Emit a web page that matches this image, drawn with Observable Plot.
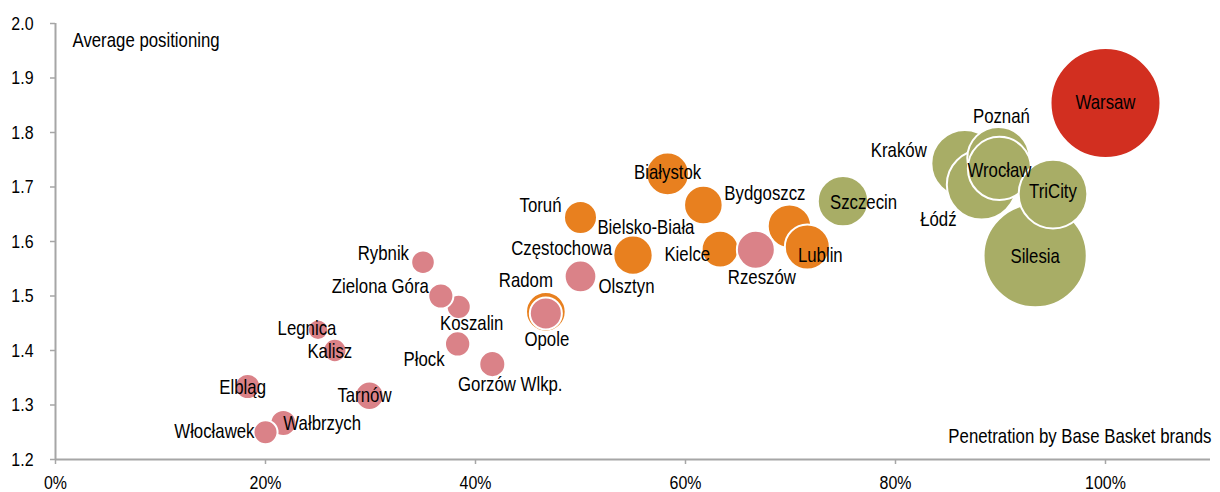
<!DOCTYPE html>
<html><head><meta charset="utf-8">
<script src="https://cdn.jsdelivr.net/npm/d3@7"></script>
<script src="https://cdn.jsdelivr.net/npm/@observablehq/plot@0.6"></script>
<style>body{margin:0;background:#fff}</style>
</head><body><div id="chart"></div>
<script>
// Data (in drawing order: later bubbles lie on top)
const cities = ["Warsaw","Silesia","Kraków","Łódź","Poznań","Wrocław","TriCity","Szczecin",
  "Białystok","Bydgoszcz","Toruń","Częstochowa","Bielsko-Biała","Lublin","Kielce","Rzeszów",
  "Radom","Opole","Olsztyn","Rybnik","Koszalin","Zielona Góra","Płock","Gorzów Wlkp.",
  "Legnica","Kalisz","Tarnów","Elbląg","Wałbrzych","Włocławek"];
const penetration = [100,93.3,86.6,88.2,89.8,89.9,95.0,75.0,
  58.3,61.7,50.0,55.0,69.9,71.6,63.3,66.7,
  46.7,46.7,50.0,35.0,38.4,36.7,38.3,41.6,
  25.0,26.6,29.9,18.3,21.7,20.0];
const positioning = [1.854,1.574,1.743,1.704,1.753,1.734,1.687,1.674,
  1.724,1.667,1.644,1.575,1.628,1.590,1.586,1.585,
  1.471,1.468,1.536,1.562,1.480,1.500,1.412,1.375,
  1.438,1.400,1.317,1.334,1.267,1.250];
const marketSize = [100,88,37,40,32,33,39,21,
  15,12.3,9.0,12.8,15.6,16.7,11.3,11.9,
  13.0,8.5,8.3,4.6,4.8,5.2,5.3,5.6,
  3.5,4.5,6.7,5.2,5.6,4.8];
const tiers = ["capital","large","large","large","large","large","large","large",
  "medium","medium","medium","medium","medium","medium","medium","small",
  "medium","small","small","small","small","small","small","small",
  "small","small","small","small","small","small"];
const xTicks = [0,20,40,60,80,100];
const yTicks = [1.2,1.3,1.4,1.5,1.6,1.7,1.8,1.9,2.0];

// Layout: label offsets from bubble centre [dx, dy, anchor]
const labelPlacement = {
  "Warsaw":[0,0,"middle"],"Silesia":[0,1,"middle"],"TriCity":[0,-2,"middle"],
  "Łódź":[-25,35,"end"],"Kraków":[-38,-13,"end"],"Poznań":[3,-42,"middle"],
  "Wrocław":[0,2,"middle"],"Szczecin":[-13,1,"start"],"Białystok":[0,-1,"middle"],
  "Bydgoszcz":[21,-11,"start"],"Bielsko-Biała":[-95,1,"end"],"Lublin":[13,9,"middle"],
  "Toruń":[-19,-12,"end"],"Częstochowa":[-21,-7,"end"],"Kielce":[-10,5,"end"],
  "Rzeszów":[6,28,"middle"],"Olsztyn":[18,10,"start"],"Radom":[-20,-31,"middle"],
  "Opole":[1,26,"middle"],"Rybnik":[-14,-9,"end"],"Zielona Góra":[-12,-9,"end"],
  "Koszalin":[13,17,"middle"],"Płock":[-13,16,"end"],"Gorzów Wlkp.":[18,20,"middle"],
  "Legnica":[-11,-1,"middle"],"Kalisz":[-5,1,"middle"],"Tarnów":[-5,0,"middle"],
  "Elbląg":[-5,1,"middle"],"Wałbrzych":[0,1,"start"],"Włocławek":[-11,-1,"end"]
};

const rows = cities.map((c,i)=>({city:c, x:penetration[i], y:positioning[i], size:marketSize[i], tier:tiers[i]}));
const FONT = "'Liberation Sans',Arial,sans-serif";
const GRAY = "#a6a6a6";

const labelMarks = rows.map(d => {
  const [dx,dy,anchor] = labelPlacement[d.city];
  return Plot.text([d], {x:"x", y:"y", text:"city", dx, dy, textAnchor:anchor, fill:"black", fontSize:20});
});

const chart = Plot.plot({
  width:1220, height:492,
  marginLeft:55, marginRight:10, marginTop:23, marginBottom:33,
  style:{fontFamily:FONT, fontSize:"19px", background:"#fff", color:"black"},
  x:{domain:[0,110]},
  y:{domain:[1.2,2.0]},
  r:{type:"sqrt", domain:[0,100], range:[0,55]},
  color:{domain:["small","medium","large","capital"], range:["#da8288","#e8801f","#a8ad66","#d22f20"]},
  marks:[
    Plot.ruleX([0], {y1:1.2, y2:2.0, stroke:GRAY, strokeWidth:2}),
    Plot.ruleY([1.2], {x1:0, x2:110, stroke:GRAY, strokeWidth:2}),
    Plot.axisX({ticks:xTicks, tickFormat:d=>d+"%", tickSize:5, tickPadding:11, stroke:GRAY, strokeWidth:1.5, fill:"black", fontSize:19, label:null}),
    Plot.axisY({ticks:yTicks, tickFormat:d3.format(".1f"), tickSize:5, tickPadding:17, stroke:GRAY, strokeWidth:1.5, fill:"black", fontSize:19, label:null}),
    Plot.dot(rows, {x:"x", y:"y", r:"size", fill:"tier", stroke:"white", strokeWidth:2, sort:null}),
    ...labelMarks,
    Plot.text(["Average positioning"], {frameAnchor:"top-left", dx:17, dy:9, fill:"black", fontSize:20}),
    Plot.text(["Penetration by Base Basket brands"], {frameAnchor:"bottom-right", dx:1, dy:-17, fill:"black", fontSize:20})
  ]
});

// Condense the text horizontally (narrow typeface look) around each text's own anchor
d3.select(chart).selectAll("text").each(function() {
  const t = d3.select(this);
  const x = +t.attr("x") || 0, y = +t.attr("y") || 0;
  const prev = t.attr("transform") || "";
  t.attr("transform", `${prev} translate(${x},${y}) scale(0.84,1) translate(${-x},${-y})`);
});
document.getElementById("chart").appendChild(chart);
</script>
</body></html>
